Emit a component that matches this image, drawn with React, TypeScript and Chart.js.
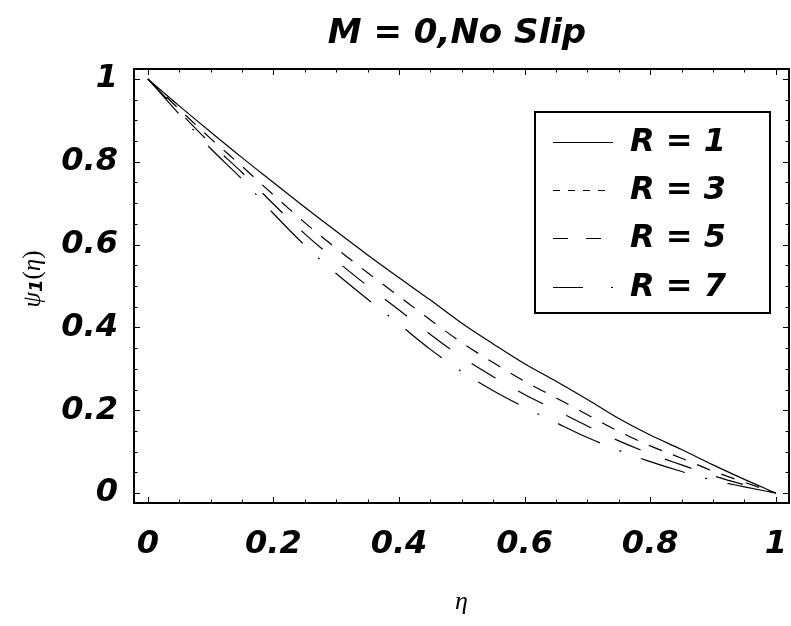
import React, { useEffect, useRef } from 'react';
import { Chart, registerables } from 'chart.js';

Chart.register(...registerables);

// Stream function ψ1(η) profiles for several values of R (M = 0, no slip)
const etaValues = [0, 0.05, 0.1, 0.15, 0.2, 0.25, 0.3, 0.35, 0.4, 0.45, 0.5, 0.55, 0.6, 0.65, 0.7, 0.75, 0.8, 0.85, 0.9, 0.95, 1];
const psiR1 = [1.0, 0.935, 0.872, 0.81, 0.75, 0.69, 0.632, 0.575, 0.52, 0.466, 0.41, 0.36, 0.312, 0.27, 0.226, 0.18, 0.14, 0.105, 0.068, 0.033, 0.0];
const psiR3 = [1.0, 0.927, 0.856, 0.789, 0.72, 0.653, 0.591, 0.532, 0.475, 0.418, 0.363, 0.315, 0.27, 0.23, 0.189, 0.149, 0.114, 0.084, 0.053, 0.026, 0.0];
const psiR5 = [1.0, 0.921, 0.844, 0.774, 0.698, 0.626, 0.561, 0.5, 0.442, 0.383, 0.328, 0.281, 0.238, 0.2, 0.162, 0.126, 0.095, 0.068, 0.042, 0.02, 0.0];
const psiR7 = [1.0, 0.915, 0.832, 0.758, 0.675, 0.598, 0.53, 0.468, 0.408, 0.347, 0.293, 0.247, 0.207, 0.17, 0.134, 0.103, 0.076, 0.052, 0.031, 0.015, 0.0];

const seriesLabels = ['R = 1', 'R = 3', 'R = 5', 'R = 7'];

const xTickValues = [0, 0.2, 0.4, 0.6, 0.8, 1];
const xTickLabels = ['0', '0.2', '0.4', '0.6', '0.8', '1'];
const yTickValues = [0, 0.2, 0.4, 0.6, 0.8, 1];
const yTickLabels = ['0', '0.2', '0.4', '0.6', '0.8', '1'];
const minorTickValues = [0.05, 0.1, 0.15, 0.25, 0.3, 0.35, 0.45, 0.5, 0.55, 0.65, 0.7, 0.75, 0.85, 0.9, 0.95];

const titleText = 'M = 0,No Slip';
const xTitleText = 'η';

// line styles: plot dashes and the shorter legend sample dashes
const plotDashes: number[][] = [[], [14, 12], [28, 26], [46, 21, 2, 21]];
const legendDashes: number[][] = [[], [7, 8], [15, 18], [30, 28, 2, 60]];

const W = 791;
const H = 626;

const decorPlugin = {
  id: 'decor',
  afterDraw(chart: any) {
    const { ctx, chartArea, scales } = chart;
    const { left, right, top, bottom } = chartArea;
    const xs = scales.x;
    const ys = scales.y;
    ctx.save();

    // frame
    ctx.strokeStyle = '#000';
    ctx.lineWidth = 2;
    ctx.strokeRect(left, top, right - left, bottom - top);

    // inward ticks on all four sides
    ctx.lineWidth = 1;
    const drawX = (v: number, len: number) => {
      const p = Math.round(xs.getPixelForValue(v)) + 0.5;
      ctx.beginPath();
      ctx.moveTo(p, bottom);
      ctx.lineTo(p, bottom - len);
      ctx.moveTo(p, top);
      ctx.lineTo(p, top + len);
      ctx.stroke();
    };
    const drawY = (v: number, len: number) => {
      const p = Math.round(ys.getPixelForValue(v)) + 0.5;
      ctx.beginPath();
      ctx.moveTo(left, p);
      ctx.lineTo(left + len, p);
      ctx.moveTo(right, p);
      ctx.lineTo(right - len, p);
      ctx.stroke();
    };
    xTickValues.forEach((v) => drawX(v, 6));
    minorTickValues.forEach((v) => drawX(v, 3.5));
    yTickValues.forEach((v) => drawY(v, 6));
    minorTickValues.forEach((v) => drawY(v, 3.5));

    // title
    ctx.fillStyle = '#000';
    ctx.textAlign = 'center';
    ctx.textBaseline = 'middle';
    ctx.font = 'italic bold 34px "DejaVu Sans"';
    ctx.fillText(titleText, 457, 34);

    // x-axis title
    ctx.font = 'italic 26px "Liberation Serif"';
    ctx.fillText(xTitleText, (left + right) / 2, 602);

    // y-axis title ψ1(η), rotated
    ctx.save();
    ctx.translate(32, 279);
    ctx.rotate(-Math.PI / 2);
    ctx.textAlign = 'left';
    ctx.textBaseline = 'alphabetic';
    const parts = [
      { t: 'ψ', f: 'italic 25px "Liberation Serif"', dy: 0 },
      { t: '1', f: 'italic bold 18px "DejaVu Sans"', dy: 2 },
      { t: '(', f: '25px "Liberation Serif"', dy: 0 },
      { t: 'η', f: 'italic 25px "Liberation Serif"', dy: 0 },
      { t: ')', f: '25px "Liberation Serif"', dy: 0 },
    ];
    let total = 0;
    parts.forEach((p) => {
      ctx.font = p.f;
      total += ctx.measureText(p.t).width;
    });
    let cx = -total / 2;
    parts.forEach((p) => {
      ctx.font = p.f;
      ctx.fillText(p.t, cx, 8 + p.dy);
      cx += ctx.measureText(p.t).width;
    });
    ctx.restore();

    // legend
    const lx = 535;
    const ly = 112;
    const lw = 235;
    const lh = 201;
    ctx.fillStyle = '#fff';
    ctx.fillRect(lx, ly, lw, lh);
    ctx.strokeStyle = '#000';
    ctx.lineWidth = 2;
    ctx.strokeRect(lx, ly, lw, lh);
    const rows = [142, 190, 238, 287];
    chart.data.datasets.forEach((ds: any, i: number) => {
      const ry = rows[i] + 0.5;
      ctx.lineWidth = 1.2;
      ctx.setLineDash(legendDashes[i]);
      ctx.beginPath();
      ctx.moveTo(553, ry);
      ctx.lineTo(613, ry);
      ctx.stroke();
      ctx.setLineDash([]);
      ctx.fillStyle = '#000';
      ctx.textAlign = 'left';
      ctx.textBaseline = 'middle';
      ctx.font = 'italic bold 32px "DejaVu Sans"';
      ctx.fillText(ds.label, 630, rows[i] + 1);
    });

    ctx.restore();
  },
};

export default function App() {
  const canvasRef = useRef<HTMLCanvasElement | null>(null);

  useEffect(() => {
    const canvas = canvasRef.current;
    if (!canvas) return;
    const series = [psiR1, psiR3, psiR5, psiR7];
    const tickFont = { family: 'DejaVu Sans', size: 32, weight: 'bold' as const, style: 'italic' as const };
    const chart = new Chart(canvas, {
      type: 'line',
      data: {
        datasets: series.map((vals, i) => ({
          label: seriesLabels[i],
          data: etaValues.map((e, j) => ({ x: e, y: vals[j] })),
          borderColor: '#000',
          borderWidth: 1.2,
          borderDash: plotDashes[i],
          pointRadius: 0,
          fill: false,
          cubicInterpolationMode: 'monotone' as const,
        })),
      },
      options: {
        animation: false,
        responsive: false,
        events: [],
        layout: { padding: { top: 69, right: 2, left: 0, bottom: 0 } },
        plugins: {
          legend: { display: false },
          title: { display: false },
          tooltip: { enabled: false },
        },
        scales: {
          x: {
            type: 'linear',
            min: -0.022,
            max: 1.021,
            grid: { display: false, drawTicks: false },
            border: { display: false },
            afterFit: (scale: any) => {
              scale.height = 123;
              scale.paddingLeft = 0;
              scale.paddingRight = 0;
            },
            afterBuildTicks: (scale: any) => {
              scale.ticks = xTickValues.map((v) => ({ value: v }));
            },
            ticks: {
              autoSkip: false,
              maxRotation: 0,
              padding: 22,
              color: '#000',
              font: tickFont,
              callback: (_v: any, i: number) => xTickLabels[i],
            },
          },
          y: {
            type: 'linear',
            min: -0.024,
            max: 1.024,
            grid: { display: false, drawTicks: false },
            border: { display: false },
            afterFit: (scale: any) => {
              scale.width = 134;
              scale.paddingTop = 0;
              scale.paddingBottom = 0;
            },
            afterBuildTicks: (scale: any) => {
              scale.ticks = yTickValues.map((v) => ({ value: v }));
            },
            ticks: {
              autoSkip: false,
              padding: 16,
              color: '#000',
              font: tickFont,
              callback: (_v: any, i: number) => yTickLabels[i],
            },
          },
        },
      },
      plugins: [decorPlugin],
    });
    return () => chart.destroy();
  }, []);

  return (
    <div style={{ position: 'fixed', left: 0, top: 0, width: W, height: H, background: '#fff' }}>
      <canvas ref={canvasRef} width={W} height={H} style={{ display: 'block' }} />
    </div>
  );
}
